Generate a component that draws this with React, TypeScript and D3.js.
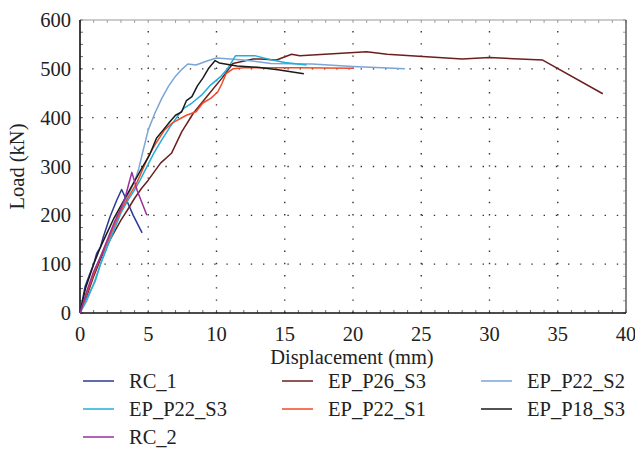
import React from "react";
import * as d3 from "d3";

type P = [number, number];

const seriesNames = ["RC_1", "EP_P26_S3", "EP_P22_S2", "EP_P22_S3", "EP_P22_S1", "EP_P18_S3", "RC_2"];
const seriesColors = ["#2b3a93", "#6d1f1f", "#7aa5d6", "#22aedc", "#f04a27", "#1a1a1a", "#9b2f9b"];

const rc1: P[] = [[0,0],[0.37,54],[0.73,81],[1,100],[1.22,122],[1.5,135],[1.71,156],[2.2,197],[2.69,231],[3.05,253],[3.4,232],[3.9,200],[4.55,164]];
const epP26S3: P[] = [[0,0],[0.5,35],[1,75],[1.5,110],[2,140],[2.5,165],[3,190],[3.5,212],[4,235],[4.5,255],[5,272],[5.9,307],[6.7,327],[7.45,371],[8.3,409],[9.28,443],[10.4,481],[11.2,511],[12.7,520],[13.2,520],[14.4,518],[15.5,530],[16.1,527],[21.0,535],[22.5,530],[28.0,520],[30.0,523],[33.9,518],[38.3,449]];
const epP22S2: P[] = [[0,0],[0.5,25],[1,60],[1.5,100],[2,140],[2.5,175],[3,210],[3.5,240],[4,270],[4.3,295],[4.6,330],[5,375],[5.5,410],[6,440],[6.5,465],[7,485],[7.5,500],[7.9,510],[8.5,508],[9.3,516],[10,522],[11,520],[12,518],[14,511],[17,510],[20,505],[23.8,500]];
const epP22S3: P[] = [[0,0],[0.5,30],[1.1,64],[1.5,100],[2,135],[2.5,170],[3,205],[3.5,230],[4,252],[4.4,272],[5,305],[5.4,327],[6,355],[6.6,381],[7.2,405],[7.6,419],[8.2,430],[8.9,446],[9.5,465],[10.3,484],[10.8,500],[11.4,527],[12.8,527],[13.9,519],[15,513],[16.6,508]];
const epP22S1: P[] = [[0,0],[0.5,40],[1,80],[1.5,115],[2,145],[2.5,180],[3,210],[3.5,235],[4.15,266],[5,320],[5.5,345],[6.2,375],[6.8,390],[7.8,405],[8.5,412],[9.0,430],[9.6,440],[10.1,453],[10.4,470],[10.7,490],[11.2,500],[12,502],[14,502],[16,502],[20,501]];
const epP18S3: P[] = [[0,0],[0.4,50],[1,100],[1.5,135],[2,165],[2.5,195],[3,220],[3.5,245],[4,270],[4.5,295],[5.1,324],[5.6,358],[6.1,375],[6.6,392],[7,405],[7.45,412],[7.8,435],[8.2,443],[8.6,465],[9.0,481],[9.4,500],[9.9,517],[10.2,512],[11.5,506],[13,503],[14.5,498],[16.4,490]];
const rc2: P[] = [[0,0],[0.5,45],[1,85],[1.5,115],[2,150],[2.5,185],[3,215],[3.3,235],[3.55,262],[3.8,288],[4.2,250],[4.9,200]];

const seriesData = [rc1, epP26S3, epP22S2, epP22S3, epP22S1, epP18S3, rc2];
const xTicks = [0, 5, 10, 15, 20, 25, 30, 35, 40];
const yTicks = [0, 100, 200, 300, 400, 500, 600];

const FONT = "'Liberation Serif', 'DejaVu Serif', serif";

export default function App() {
  const W = 635, H = 475;
  const left = 80, right = 626, top = 20, bottom = 313;
  const x = d3.scaleLinear().domain([0, 40]).range([left, right]);
  const y = d3.scaleLinear().domain([0, 600]).range([bottom, top]);
  const line = d3.line<P>().x(d => x(d[0])).y(d => y(d[1]));
  const xMinor = d3.range(0, 40.01, 1);
  const yMinor = d3.range(0, 600.01, 25);

  const legendCols = [83, 282, 481];
  const legendRows = [381, 409, 437];
  const fs = 20.5;

  return (
    <svg width={W} height={H} style={{ position: "absolute", left: 0, top: 0, background: "#fff" }} fontFamily={FONT}>
      <rect x={0} y={0} width={W} height={H} fill="#fff" />
      {/* grid */}
      {xTicks.slice(1, -1).map(t => (
        <line key={"gx" + t} x1={x(t)} x2={x(t)} y1={bottom} y2={top} stroke="#333" strokeWidth={1.4} strokeDasharray="1.4 10.8" />
      ))}
      {yTicks.slice(1, -1).map(t => (
        <line key={"gy" + t} x1={left} x2={right} y1={y(t)} y2={y(t)} stroke="#333" strokeWidth={1.4} strokeDasharray="1.4 10.8" />
      ))}
      {/* minor ticks */}
      {xMinor.map(t => (
        <g key={"mx" + t}>
          <line x1={x(t)} x2={x(t)} y1={bottom} y2={bottom - 3} stroke="#444" strokeWidth={0.8} />
          <line x1={x(t)} x2={x(t)} y1={top} y2={top + 3} stroke="#888" strokeWidth={0.8} />
        </g>
      ))}
      {yMinor.map(t => (
        <g key={"my" + t}>
          <line x1={left} x2={left + 3} y1={y(t)} y2={y(t)} stroke="#444" strokeWidth={0.8} />
          <line x1={right} x2={right - 3} y1={y(t)} y2={y(t)} stroke="#888" strokeWidth={0.8} />
        </g>
      ))}
      {/* frame */}
      <line x1={left} x2={right} y1={top} y2={top} stroke="#999" strokeWidth={1.2} />
      <line x1={right} x2={right} y1={top} y2={bottom} stroke="#555" strokeWidth={1.4} />
      <line x1={left} x2={right} y1={bottom} y2={bottom} stroke="#111" strokeWidth={1.6} />
      <line x1={left} x2={left} y1={top} y2={bottom} stroke="#111" strokeWidth={1.6} />
      {/* series */}
      {seriesData.map((s, i) => (
        <path key={"s" + i} d={line(s) || ""} fill="none" stroke={seriesColors[i]} strokeWidth={1.5} strokeLinejoin="round" />
      ))}
      {/* tick labels */}
      {xTicks.map(t => (
        <text key={"tx" + t} x={x(t)} y={bottom + 28} textAnchor="middle" fontSize={fs} fill="#222">{t}</text>
      ))}
      {yTicks.map(t => (
        <text key={"ty" + t} x={left - 9} y={y(t) + 7} textAnchor="end" fontSize={fs} fill="#222">{t}</text>
      ))}
      <text x={(left + right) / 2 - 1} y={364} textAnchor="middle" fontSize={fs} fill="#222">Displacement (mm)</text>
      <text transform={`translate(24,${(top + bottom) / 2}) rotate(-90)`} textAnchor="middle" fontSize={fs} fill="#222">Load (kN)</text>
      {/* legend */}
      {seriesNames.map((n, i) => {
        const cx = legendCols[i % 3];
        const cy = legendRows[Math.floor(i / 3)];
        return (
          <g key={"lg" + i}>
            <line x1={cx} x2={cx + 31} y1={cy} y2={cy} stroke={seriesColors[i]} strokeWidth={1.5} />
            <text x={cx + 46} y={cy + 7} fontSize={fs} fill="#222">{n}</text>
          </g>
        );
      })}
    </svg>
  );
}
